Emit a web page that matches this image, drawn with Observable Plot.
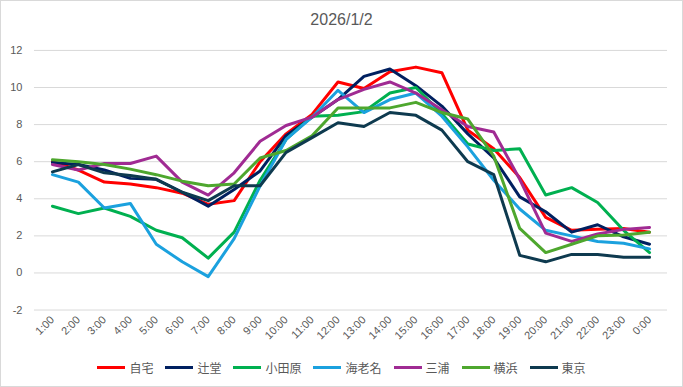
<!DOCTYPE html>
<html>
<head>
<meta charset="utf-8">
<script src="https://cdn.jsdelivr.net/npm/d3@7"></script>
<script src="https://cdn.jsdelivr.net/npm/@observablehq/plot@0.6"></script>
<style>
  html, body { margin: 0; padding: 0; background: #fff; }
  #wrap { position: relative; width: 683px; height: 387px; box-sizing: border-box; border: 1px solid #d9d9d9; font-family: "Liberation Sans", "Noto Sans CJK JP", sans-serif; overflow: hidden; }
  #title { position: absolute; top: 10px; left: 0; width: 100%; text-align: center; font-size: 16px; color: #595959; }
  #chart { position: absolute; top: -1px; left: -1px; }
  #legend { position: absolute; top: 358px; left: 0; width: 100%; display: flex; justify-content: center; gap: 12px; font-size: 12px; color: #595959; font-family: "Noto Sans CJK JP", sans-serif; }
  .item { display: flex; align-items: center; gap: 4px; }
  .sw { width: 28px; height: 3px; }
</style>
</head>
<body>
<div id="wrap">
  <div id="title">2026/1/2</div>
  <div id="chart"></div>
  <div id="legend"></div>
</div>
<script>
const hours = ["1:00","2:00","3:00","4:00","5:00","6:00","7:00","8:00","9:00","10:00","11:00","12:00","13:00","14:00","15:00","16:00","17:00","18:00","19:00","20:00","21:00","22:00","23:00","0:00"];
const seriesNames = ["自宅","辻堂","小田原","海老名","三浦","横浜","東京"];
const seriesColors = ["#FF0000","#002060","#00B050","#1BA1DE","#A02B93","#4EA72E","#0E3A4F"];
const jitaku   = [6.0,5.55,4.9,4.8,4.6,4.3,3.7,3.9,6.0,7.5,8.55,10.3,9.95,10.85,11.1,10.8,7.7,6.7,5.15,3.0,2.3,2.35,2.4,2.2];
const tsujido  = [5.95,5.85,5.55,5.1,5.05,4.35,3.6,4.5,5.5,7.4,8.4,9.35,10.6,11.0,10.1,9.0,7.5,6.2,4.1,3.3,2.2,2.6,1.95,1.55];
const odawara  = [3.6,3.2,3.5,3.05,2.3,1.9,0.8,2.2,5.0,7.2,8.45,8.5,8.7,9.7,10.0,8.6,6.95,6.6,6.7,4.2,4.6,3.8,2.3,1.1];
const ebina    = [5.3,4.9,3.5,3.75,1.55,0.6,-0.2,1.85,4.7,7.2,8.4,9.85,8.65,9.35,9.7,8.45,6.8,5.0,3.45,2.3,2.0,1.7,1.6,1.3];
const miura    = [5.85,5.55,5.9,5.9,6.3,4.9,4.2,5.4,7.1,7.95,8.4,9.35,9.9,10.3,9.7,8.8,7.9,7.6,5.05,2.15,1.7,2.1,2.35,2.45];
const yokohama = [6.1,6.0,5.85,5.6,5.3,4.95,4.7,4.8,6.2,6.6,7.4,8.9,8.9,8.9,9.2,8.65,8.3,6.3,2.4,1.1,1.55,2.0,2.05,2.2];
const tokyo    = [5.45,5.85,5.4,5.25,5.05,4.35,3.9,4.7,4.7,6.5,7.3,8.1,7.9,8.65,8.5,7.7,6.0,5.3,0.95,0.6,1.0,1.0,0.85,0.85];
const yTicks = [-2,0,2,4,6,8,10,12];

const allSeries = [jitaku, tsujido, odawara, ebina, miura, yokohama, tokyo];
const rows = [];
allSeries.forEach((vals, si) => {
  vals.forEach((v, i) => rows.push({hour: hours[i], value: v, series: seriesNames[si]}));
});

const chart = Plot.plot({
  width: 683,
  height: 345,
  marginTop: 50,
  marginBottom: 35,
  marginLeft: 34,
  marginRight: 15,
  style: {fontFamily: "Liberation Sans, sans-serif", fontSize: "11px", color: "#595959", background: "transparent"},
  x: {type: "point", domain: hours, padding: 0.5, label: null},
  y: {domain: [-2, 12], label: null},
  color: {domain: seriesNames, range: seriesColors},
  marks: [
    Plot.gridY(yTicks, {stroke: "#d9d9d9", strokeOpacity: 1, strokeWidth: 1}),
    Plot.axisY(yTicks, {tickSize: 0, tickPadding: 12, tickFormat: d => String(d), fill: "#595959", fontSize: 11, label: null}),
    Plot.axisX({tickSize: 0, tickPadding: 8, tickRotate: -45, fill: "#595959", fontSize: 11, label: null}),
    Plot.line(rows, {x: "hour", y: "value", z: "series", stroke: "series", strokeWidth: 3, strokeLinejoin: "round", strokeLinecap: "round"})
  ]
});
document.getElementById("chart").appendChild(chart);

const legend = document.getElementById("legend");
seriesNames.forEach((n, i) => {
  const it = document.createElement("div");
  it.className = "item";
  const sw = document.createElement("div");
  sw.className = "sw";
  sw.style.background = seriesColors[i];
  const t = document.createElement("span");
  t.textContent = n;
  it.appendChild(sw); it.appendChild(t);
  legend.appendChild(it);
});
</script>
</body>
</html>
